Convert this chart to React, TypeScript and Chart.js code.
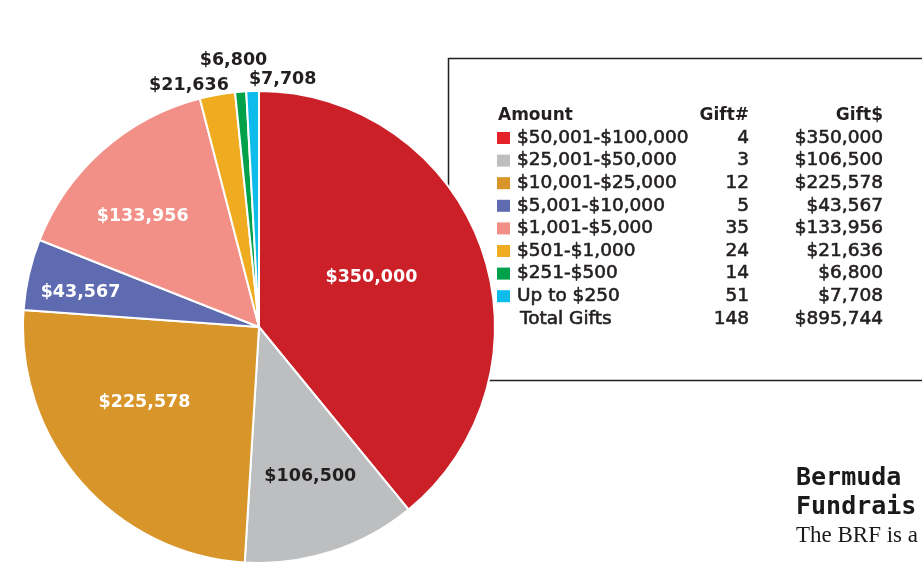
import React, { useEffect, useRef } from "react";
import { Chart, registerables } from "chart.js";

Chart.register(...registerables);

// ---- data ----
const categories = [
  "$50,001-$100,000",
  "$25,001-$50,000",
  "$10,001-$25,000",
  "$5,001-$10,000",
  "$1,001-$5,000",
  "$501-$1,000",
  "$251-$500",
  "Up to $250",
];
const giftCounts = [4, 3, 12, 5, 35, 24, 14, 51];
const giftAmounts = [350000, 106500, 225578, 43567, 133956, 21636, 6800, 7708];
const totalLabel = "Total Gifts";
const totalCount = 148;
const totalAmount = 895744;
const headers = ["Amount", "Gift#", "Gift$"];
const sideTitle = ["Bermuda", "Fundrais"];
const sideBody = ["The BRF is a"];

// ---- styles ----
const sliceColors = [
  "#CC2028",
  "#BCBEC0",
  "#D8952A",
  "#5E6BB1",
  "#F29087",
  "#EFAC20",
  "#00A14B",
  "#0DBCEB",
];
const swatchColors = [
  "#E52129",
  "#BCBEC0",
  "#D8952A",
  "#5E6BB1",
  "#F29087",
  "#EFAC20",
  "#00A14B",
  "#0DBCEB",
];
const labelIsDark = [false, true, false, false, false, true, true, true];
// label placement: fraction of radius and angular nudge (degrees)
const labelRadiusFactor = [0.52, 0.67, 0.58, 0.77, 0.68, 1.065, 1.135, 1.055];
const labelAngleNudge = [-4, -1, 8, -2, -5, -6, -1, 7];

const INK = "#231F20";
const fmt = (n: number) => "$" + n.toLocaleString("en-US");

function medText(ctx: any, s: string, x: number, y: number) {
  ctx.fillText(s, x, y);
  ctx.strokeText(s, x, y);
}

const pagePlugin = {
  id: "pagePlugin",
  beforeDraw(chart: any) {
    const ctx = chart.ctx;
    ctx.save();
    ctx.fillStyle = "#ffffff";
    ctx.fillRect(0, 0, chart.width, chart.height);
    ctx.restore();
  },
  beforeDatasetsDraw(chart: any) {
    const ctx = chart.ctx;
    ctx.save();
    ctx.strokeStyle = INK;
    ctx.lineWidth = 1.5;
    ctx.strokeRect(448.5, 58.5, 520, 322);
    ctx.restore();
  },
  afterDatasetsDraw(chart: any) {
    const ctx = chart.ctx;
    const meta = chart.getDatasetMeta(0);
    ctx.save();
    ctx.font = "bold 17.5px 'DejaVu Sans'";
    ctx.textAlign = "center";
    ctx.textBaseline = "middle";
    meta.data.forEach((arc: any, i: number) => {
      const p = arc.getProps(["x", "y", "startAngle", "endAngle", "outerRadius"], true);
      const mid = (p.startAngle + p.endAngle) / 2 + (labelAngleNudge[i] * Math.PI) / 180;
      const r = p.outerRadius * labelRadiusFactor[i];
      const x = p.x + Math.cos(mid) * r;
      const y = p.y + Math.sin(mid) * r;
      ctx.fillStyle = labelIsDark[i] ? INK : "#ffffff";
      ctx.fillText(fmt(giftAmounts[i]), x, y);
    });
    ctx.restore();
  },
  afterDraw(chart: any) {
    const ctx = chart.ctx;
    ctx.save();
    ctx.fillStyle = INK;
    ctx.strokeStyle = INK;
    ctx.lineWidth = 0.6;
    ctx.textBaseline = "middle";
    const colLabel = 517;
    const colCount = 749;
    const colAmount = 883;
    const headerY = 116;
    const rowY0 = 138;
    const rowStep = 22.6;
    // headers
    ctx.font = "bold 17px 'DejaVu Sans'";
    ctx.textAlign = "left";
    ctx.fillText(headers[0], 498, headerY);
    ctx.textAlign = "right";
    ctx.fillText(headers[1], colCount, headerY);
    ctx.fillText(headers[2], colAmount, headerY);
    // rows
    ctx.font = "18.5px 'DejaVu Sans'";
    categories.forEach((c, i) => {
      const y = rowY0 + i * rowStep;
      ctx.fillStyle = swatchColors[i];
      ctx.fillRect(497, y - 6, 13, 12);
      ctx.fillStyle = INK;
      ctx.textAlign = "left";
      medText(ctx, c, colLabel, y);
      ctx.textAlign = "right";
      medText(ctx, String(giftCounts[i]), colCount, y);
      medText(ctx, fmt(giftAmounts[i]), colAmount, y);
    });
    const ty = rowY0 + categories.length * rowStep;
    ctx.textAlign = "left";
    medText(ctx, totalLabel, 520, ty);
    ctx.textAlign = "right";
    medText(ctx, String(totalCount), colCount, ty);
    medText(ctx, fmt(totalAmount), colAmount, ty);

    // side article text
    ctx.textAlign = "left";
    ctx.textBaseline = "alphabetic";
    ctx.fillStyle = "#1a1a1a";
    ctx.font = "bold 25px 'DejaVu Sans Mono'";
    ctx.fillText(sideTitle[0], 796, 485);
    ctx.fillText(sideTitle[1], 796, 514);
    ctx.font = "23px 'Liberation Serif'";
    ctx.fillText(sideBody[0], 796, 542);
    ctx.restore();
  },
};

export default function App() {
  const ref = useRef<HTMLCanvasElement | null>(null);
  useEffect(() => {
    document.body.style.margin = "0";
    const canvas = ref.current;
    if (!canvas) return;
    const chart = new Chart(canvas, {
      type: "pie",
      data: {
        labels: categories,
        datasets: [
          {
            data: giftAmounts,
            backgroundColor: sliceColors,
            borderColor: "#ffffff",
            borderWidth: 2,
            hoverOffset: 0,
            radius: 236,
            clip: false,
          } as any,
        ],
      },
      options: {
        responsive: false,
        maintainAspectRatio: false,
        animation: false,
        events: [],
        layout: { padding: { left: 0, right: 404, top: 92, bottom: 0 } },
        plugins: {
          legend: { display: false },
          tooltip: { enabled: false },
        },
      },
      plugins: [pagePlugin],
    });
    return () => chart.destroy();
  }, []);
  return (
    <div style={{ position: "fixed", left: 0, top: 0, width: 922, height: 562, overflow: "hidden", background: "#fff" }}>
      <canvas ref={ref} width={922} height={562} style={{ display: "block", width: 922, height: 562 }} />
    </div>
  );
}
